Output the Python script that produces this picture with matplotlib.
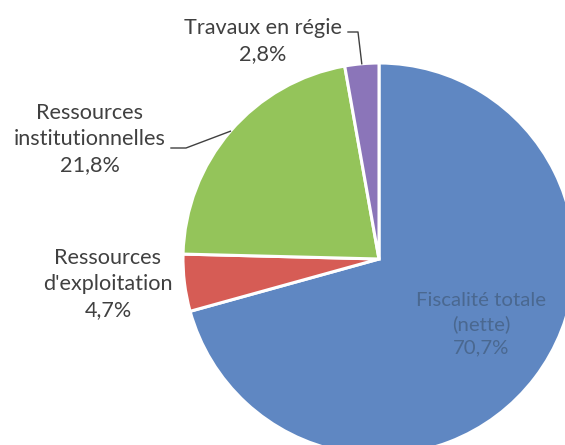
import matplotlib
matplotlib.use("Agg")
import matplotlib.pyplot as plt
import numpy as np

categories = ["Fiscalité totale\n(nette)", "Ressources\nd'exploitation",
              "Ressources\ninstitutionnelles", "Travaux en régie"]
values = [70.7, 4.7, 21.8, 2.8]
pct_labels = ["70,7%", "4,7%", "21,8%", "2,8%"]
colors = ["#5F87C2", "#D65C55", "#94C45A", "#8B75B9"]

W, H = 565, 445
fig = plt.figure(figsize=(W / 100, H / 100), dpi=100)
ax = fig.add_axes([0, 0, 1, 1])

cx, cy, R = 379, H - 259, 196
wedges, _ = ax.pie(values, colors=colors, startangle=90, counterclock=False,
                   center=(cx, cy), radius=R, frame=True,
                   wedgeprops=dict(edgecolor="white", linewidth=2.2))
ax.set_xlim(0, W)
ax.set_ylim(0, H)
ax.set_aspect("auto")
ax.axis("off")

font = "Lato"
tc = "#404040"
fs = 15.6
ls = 1.38

def P(x, y):
    return x, H - y

def mid_point(w, r=1.0):
    a = np.deg2rad((w.theta1 + w.theta2) / 2)
    return cx + R * r * np.cos(a), cy + R * r * np.sin(a)

# Fiscalité (inside)
ax.text(*P(481, 324), categories[0] + "\n" + pct_labels[0], ha="center", va="center",
        fontsize=14.7, family=font, color="#4A6890", linespacing=1.45)
# Ressources d'exploitation
ax.text(*P(108, 284), categories[1] + "\n" + pct_labels[1], ha="center", va="center",
        fontsize=fs, family=font, color=tc, linespacing=ls)
# Ressources institutionnelles
ax.text(*P(90, 139), categories[2] + "\n" + pct_labels[2], ha="center", va="center",
        fontsize=fs, family=font, color=tc, linespacing=ls)
# Travaux en régie
ax.text(*P(263, 41), categories[3] + "\n" + pct_labels[3], ha="center", va="center",
        fontsize=fs, family=font, color=tc, linespacing=ls)

# leader lines
x2, y2 = mid_point(wedges[2])
ax.plot([x2, 186, 171], [y2, H - 148, H - 148], color="#404040", lw=1.0)
x3, y3 = mid_point(wedges[3])
ax.plot([x3, 358, 348], [y3, H - 32, H - 32], color="#404040", lw=1.0)

fig.savefig("out.png", dpi=100, facecolor="white")
